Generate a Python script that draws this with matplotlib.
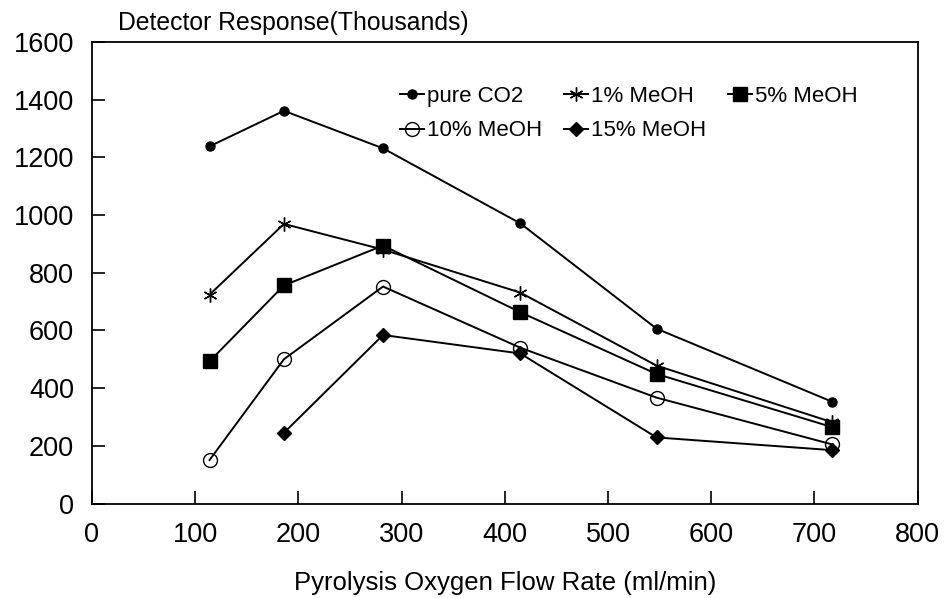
import matplotlib.pyplot as plt

plt.rcParams['font.family'] = ['Liberation Sans', 'DejaVu Sans']

flow = [114, 186, 282, 415, 547, 717]
pure_co2 = [1238, 1361, 1231, 971, 606, 353]
meoh_1 = [724, 969, 880, 731, 478, 282]
meoh_5 = [493, 756, 894, 663, 449, 265]
meoh_10 = [151, 500, 752, 540, 367, 205]
flow_15 = [186, 282, 415, 547, 717]
meoh_15 = [245, 584, 520, 229, 185]

fig = plt.figure(figsize=(9.48, 5.98), dpi=100)
ax = fig.add_axes([0.097, 0.158, 0.871, 0.772])

lw = 1.4
h1, = ax.plot(flow, pure_co2, color='black', lw=lw, marker='o', markersize=6.5, label='pure CO2')
h2, = ax.plot(flow, meoh_1, color='black', lw=lw, marker=(6, 2, 0), markersize=10,
              markeredgewidth=1.0, label='1% MeOH')
h3, = ax.plot(flow, meoh_5, color='black', lw=lw, marker='s', markersize=10, label='5% MeOH')
h4, = ax.plot(flow, meoh_10, color='black', lw=lw, marker='o', markersize=10,
              markerfacecolor='none', markeredgewidth=1.0, label='10% MeOH')
h5, = ax.plot(flow_15, meoh_15, color='black', lw=lw, marker='D', markersize=7, label='15% MeOH')

ax.set_xlim(0, 800)
ax.set_ylim(0, 1600)
ax.set_xticks(range(0, 801, 100))
ax.set_yticks(range(0, 1601, 200))
ax.tick_params(direction='in', length=9.5, width=1.2, labelsize=19.5)
ax.tick_params(axis='x', pad=13)
ax.tick_params(axis='y', pad=13)
for s in ax.spines.values():
    s.set_linewidth(1.3)

ax.set_xlabel('Pyrolysis Oxygen Flow Rate (ml/min)', fontsize=18.5, labelpad=17)
ax.text(0.031, 1.026, 'Detector Response(Thousands)', transform=ax.transAxes,
        fontsize=17.8, ha='left', va='baseline')

# order handles so that the legend fills row by row
ax.legend([h1, h4, h2, h5, h3], ['pure CO2', '10% MeOH', '1% MeOH', '15% MeOH', '5% MeOH'],
          ncol=3, frameon=False, loc='upper left', bbox_to_anchor=(0.373, 0.905),
          fontsize=16, handlelength=1.1, handletextpad=0.1, columnspacing=1.0,
          labelspacing=0.62, borderaxespad=0, borderpad=0)

fig.savefig('out.png', dpi=100)
